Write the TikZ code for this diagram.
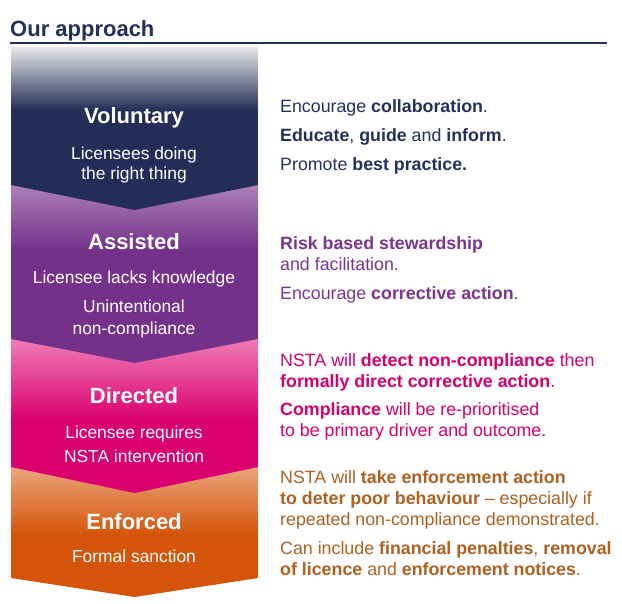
\documentclass[tikz,border=0pt]{standalone}
\usepackage{fontspec}
\setmainfont{Liberation Sans}
\definecolor{navy}{HTML}{22305E}
\definecolor{navyD}{HTML}{232D57}
\definecolor{grayL}{HTML}{E8E8EC}
\definecolor{purpL}{HTML}{AC80B7}
\definecolor{purpD}{HTML}{74318A}
\definecolor{purpT}{HTML}{7A3590}
\definecolor{pinkL}{HTML}{F07DB5}
\definecolor{pinkD}{HTML}{DA0070}
\definecolor{pinkT}{HTML}{D6006D}
\definecolor{orL}{HTML}{EAA47C}
\definecolor{orD}{HTML}{D4550A}
\definecolor{orT}{HTML}{AE6020}
\newcommand\chevseg[6]{%
  \begin{scope}
    \clip (11,#1) -- (258,#1) -- (258,#2) -- (134.5,#3) -- (11,#2) -- cycle;
    \fill[#6] (11,#1) rectangle (258,#3);
    \shade[top color=#5, bottom color=#6] (11,#1) rectangle (258,#4);
  \end{scope}}
\tikzset{
  head/.style={anchor=base, inner sep=0, text=white, font=\fontsize{22}{26}\selectfont\bfseries},
  sub/.style={anchor=base, inner sep=0, text=white, font=\fontsize{17.4}{20}\selectfont},
  rtext/.style={anchor=base west, inner sep=0, font=\fontsize{17.8}{21}\selectfont},
}
\begin{document}
\begin{tikzpicture}[x=1pt,y=-1pt]
\useasboundingbox (0,0) rectangle (622,604);
% title
\node[anchor=base west, inner sep=0, text=navy, font=\fontsize{22}{26}\selectfont\bfseries] (title) at (10,37) {Our approach};
\coordinate (rl) at (10,43);
\coordinate (rr) at (607,43);
\draw[navy, line width=1.6pt] (rl) -- (rr);
% chevron column (bottom to top)
\chevseg{467}{578}{597}{535}{orL}{orD}
\chevseg{339}{467}{493}{420}{pinkL}{pinkD}
\chevseg{185}{339}{363}{250}{purpL}{purpD}
\chevseg{47}{185}{210}{110}{grayL}{navyD}
% left labels
\node[head] (vh) at (134,123.5) {Voluntary};
\node[sub] (vs1) at (134,160) {Licensees doing};
\node[sub] (vs2) at (134,180) {the right thing};
\node[head] (ah) at (134,249.5) {Assisted};
\node[sub] (as1) at (134,283.5) {Licensee lacks knowledge};
\node[sub] (as2) at (134,312.5) {Unintentional};
\node[sub] (as3) at (134,335) {non-compliance};
\node[head] (dh) at (134,404) {Directed};
\node[sub] (ds1) at (134,438.5) {Licensee requires};
\node[sub] (ds2) at (134,462) {NSTA intervention};
\node[head] (eh) at (134,529.5) {Enforced};
\node[sub] (es1) at (134,562.5) {Formal sanction};
% right texts
\node[rtext, text=navy] (r1) at (280,112.5) {Encourage \textbf{collaboration}.};
\node[rtext, text=navy] (r2) at (280,141.5) {\textbf{Educate}, \textbf{guide} and \textbf{inform}.};
\node[rtext, text=navy] (r3) at (280,170.5) {Promote \textbf{best practice.}};
\node[rtext, text=purpT] (p1) at (280,250) {\textbf{Risk based stewardship}};
\node[rtext, text=purpT] (p2) at (280,271) {and facilitation.};
\node[rtext, text=purpT] (p3) at (280,300) {Encourage \textbf{corrective action}.};
\node[rtext, text=pinkT] (k1) at (280,366.5) {NSTA will \textbf{detect non-compliance} then};
\node[rtext, text=pinkT] (k2) at (280,387.5) {\textbf{formally direct corrective action}.};
\node[rtext, text=pinkT] (k3) at (280,416) {\textbf{Compliance} will be re-prioritised};
\node[rtext, text=pinkT] (k4) at (280,437) {to be primary driver and outcome.};
\node[rtext, text=orT] (o1) at (280,483.5) {NSTA will \textbf{take enforcement action}};
\node[rtext, text=orT] (o2) at (280,504.5) {\textbf{to deter poor behaviour} – especially if};
\node[rtext, text=orT] (o3) at (280,525.5) {repeated non-compliance demonstrated.};
\node[rtext, text=orT] (o4) at (280,554) {Can include \textbf{financial penalties}, \textbf{removal}};
\node[rtext, text=orT] (o5) at (280,575) {\textbf{of licence} and \textbf{enforcement notices}.};
\end{tikzpicture}
\end{document}
